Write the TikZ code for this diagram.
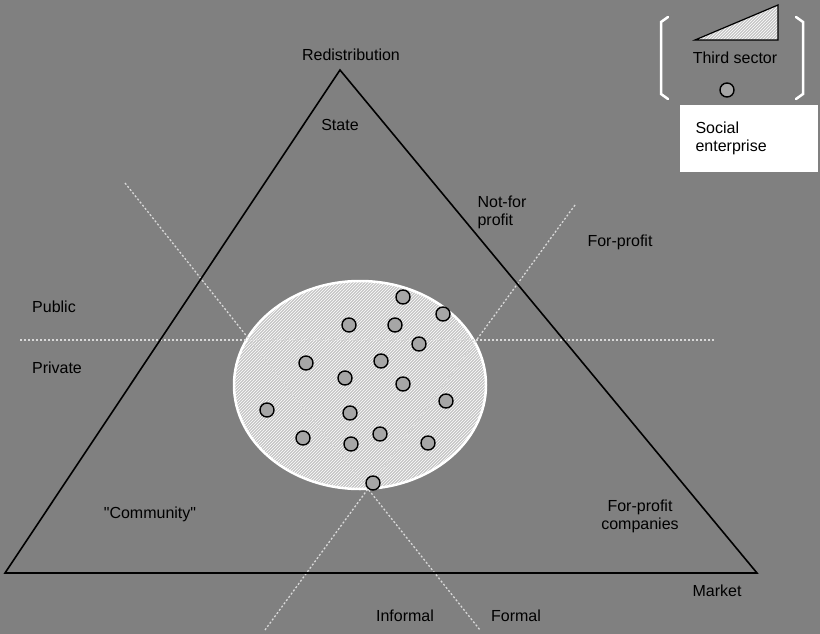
\documentclass[tikz,border=0pt]{standalone}
\usepackage{fontspec}
\setmainfont{Liberation Sans}
\usetikzlibrary{patterns}
\definecolor{bggray}{HTML}{808080}
\tikzset{
	lbl/.style={font=\fontsize{16}{18}\selectfont, text=black, align=center},
	firm/.style={draw=black, line width=1.4pt, fill=gray!70, circle, minimum size=14pt, inner sep=0pt},
	split/.style={draw=gray!30, line width=1.3pt, dash pattern=on 2pt off 2pt},
}
\begin{document}
\begin{tikzpicture}[x=1pt, y=-1pt]
	\fill[bggray] (0,0) rectangle (820,634);
	\useasboundingbox (0,0) rectangle (820,634);
	% third sector area
	\fill[gray!45] (360,385) ellipse [x radius=126, y radius=104];
	\fill[pattern=north east lines, pattern color=white] (360,385) ellipse [x radius=126, y radius=104];
	\draw[white, line width=2.5pt] (360,385) ellipse [x radius=126, y radius=104];
	% dividing lines
	\draw[split] (20,340) -- (715,340);
	\draw[split] (125,183) -- (480,630);
	\draw[split] (575,205) -- (265,630);
	% triangle
	\coordinate (top) at (340,70);
	\coordinate (left) at (5,573);
	\coordinate (right) at (757,573);
	\draw[black, line width=1.6pt] (left) -- (top) -- (right) -- cycle;
	% social enterprises
	\foreach [count=\i] \x/\y in {403/297, 443/314, 349/325, 395/325, 419/344, 306/363, 381/361,
		345/378, 403/384, 267/410, 446/401, 350/413, 303/438, 380/434, 351/444, 428/443, 373/483}
	{
		\node[firm] (se\i) at (\x,\y) {};
	}
	% labels
	\node[lbl] (redis) at (351,55) {Redistribution};
	\node[lbl] (state) at (340,125) {State};
	\node[lbl, align=left] (nfp) at (502,212) {Not-for\\profit};
	\node[lbl] (fp) at (620,242) {For-profit};
	\node[lbl] (public) at (54,307) {Public};
	\node[lbl] (private) at (57,368) {Private};
	\node[lbl] (comm) at (150,514) {\textquotedbl Community\textquotedbl};
	\node[lbl] (fpc) at (640,516) {For-profit\\companies};
	\node[lbl] (market) at (717,591) {Market};
	\node[lbl] (informal) at (405,616) {Informal};
	\node[lbl] (formal) at (516,616) {Formal};
	% legend
	\draw[white, line width=2.5pt, line cap=round] (668,17) -- (661,22) -- (661,94) -- (668,99);
	\draw[white, line width=2.5pt, line cap=round] (796,17) -- (803,22) -- (803,94) -- (796,99);
	\fill[gray!45] (695,40) -- (778,5) -- (778,40) -- cycle;
	\fill[pattern=north east lines, pattern color=white] (695,40) -- (778,5) -- (778,40) -- cycle;
	\draw[black, line width=1.2pt] (695,40) -- (778,5) -- (778,40) -- cycle;
	\node[lbl] (third) at (735,58) {Third sector};
	\node[firm] (legse) at (727,90) {};
	\fill[white] (680,105) rectangle (818,172);
	\node[lbl, align=left, anchor=west] (social) at (692,138) {Social\\enterprise};
\end{tikzpicture}
\end{document}
